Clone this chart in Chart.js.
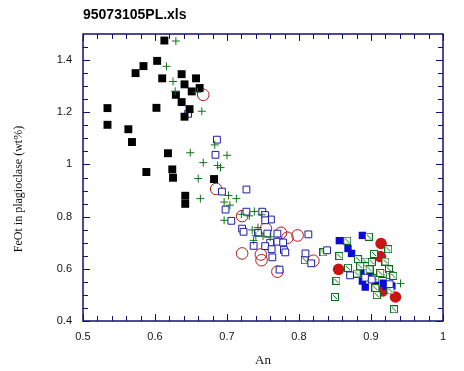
<!DOCTYPE html>
<html>
<head>
<meta charset="utf-8">
<script src="https://cdn.jsdelivr.net/npm/chart.js@4/dist/chart.umd.min.js"></script>
<style>
html,body{margin:0;padding:0;background:#fff;}
#c{display:block;}
</style>
</head>
<body>
<canvas id="c" width="464" height="371"></canvas>
<script>
// ---- Data (An, FeOt wt%) ----
const chartTitle = "95073105PL.xls";
const xTitle = "An";
const yTitle = "FeOt in plagioclase (wt%)";
const xTickValues = [0.5, 0.6, 0.7, 0.8, 0.9, 1.0];
const yTickValues = [0.4, 0.6, 0.8, 1.0, 1.2, 1.4];

const blackSqAn  = [0.613,0.603,0.584,0.573,0.610,0.637,0.657,0.641,0.662,0.651,0.629,0.637,0.648,0.641,0.534,0.602,0.534,0.563,0.568,0.618,0.588,0.624,0.625,0.682,0.642,0.642];
const blackSqFeO = [1.475,1.397,1.377,1.350,1.330,1.346,1.330,1.307,1.293,1.280,1.267,1.239,1.212,1.183,1.216,1.217,1.152,1.135,1.086,1.043,0.971,0.981,0.949,0.944,0.880,0.849];

const plusAn  = [0.629,0.616,0.625,0.628,0.659,0.665,0.683,0.649,0.700,0.667,0.687,0.691,0.660,0.663,0.702,0.713,0.696,0.704,0.696,0.720,0.731,0.738,0.748,0.735,0.743,0.740,0.750,0.737,0.760,0.941];
const plusFeO = [1.473,1.376,1.318,1.280,1.277,1.204,1.075,1.045,1.035,1.007,0.996,0.988,0.946,0.869,0.881,0.869,0.856,0.844,0.786,0.809,0.803,0.820,0.807,0.749,0.758,0.727,0.725,0.709,0.722,0.544];

const openSqAn  = [0.686,0.684,0.646,0.727,0.693,0.698,0.706,0.727,0.749,0.753,0.761,0.753,0.721,0.723,0.743,0.756,0.770,0.813,0.760,0.770,0.778,0.737,0.753,0.762,0.779,0.781,0.763,0.809,0.817,0.839,0.773,0.871,0.892,0.901,0.926];
const openSqFeO = [1.095,1.037,1.194,0.904,0.896,0.827,0.784,0.819,0.819,0.806,0.789,0.786,0.754,0.742,0.738,0.735,0.735,0.732,0.700,0.704,0.701,0.688,0.687,0.675,0.672,0.663,0.644,0.659,0.621,0.671,0.597,0.575,0.566,0.559,0.541];

const openCircAn  = [0.667,0.685,0.721,0.754,0.775,0.784,0.798,0.721,0.747,0.748,0.770,0.820];
const openCircFeO = [1.267,0.906,0.802,0.754,0.738,0.719,0.728,0.659,0.655,0.633,0.589,0.631];

const redDotAn  = [0.914,0.913,0.855,0.934,0.916];
const redDotFeO = [0.697,0.647,0.598,0.492,0.515];

const blueSqAn  = [0.856,0.888,0.868,0.873,0.886,0.888,0.892,0.906,0.917,0.921,0.929,0.899];
const blueSqFeO = [0.708,0.728,0.678,0.659,0.587,0.553,0.530,0.551,0.545,0.534,0.534,0.572];

const diagSqAn  = [0.834,0.867,0.897,0.904,0.924,0.856,0.882,0.892,0.901,0.920,0.868,0.892,0.898,0.917,0.925,0.926,0.931,0.852,0.880,0.906,0.906,0.908,0.927,0.850,0.932,0.808,0.885,0.913];
const diagSqFeO = [0.663,0.708,0.723,0.657,0.675,0.649,0.637,0.628,0.626,0.628,0.604,0.610,0.598,0.582,0.598,0.576,0.573,0.554,0.582,0.563,0.526,0.499,0.517,0.492,0.445,0.633,0.610,0.584];

function pts(xs, ys){ return xs.map((x,i)=>({x:x, y:ys[i]})); }

// custom point: green square with diagonal
const diagImg = document.createElement('canvas');
diagImg.width = 8; diagImg.height = 8;
(function(){
  const g = diagImg.getContext('2d');
  g.fillStyle = '#ffffff'; g.fillRect(0,0,8,8);
  g.strokeStyle = '#0a6e1e'; g.lineWidth = 1;
  g.strokeRect(0.5,0.5,7,7);
  g.beginPath(); g.moveTo(2,2); g.lineTo(6,6); g.stroke();
})();

const NAVY = '#10107a';

const frameAndTicks = {
  id: 'frameAndTicks',
  afterDraw(chart){
    const {ctx, chartArea:a, scales:{x, y}} = chart;
    ctx.save();
    ctx.strokeStyle = NAVY; ctx.lineWidth = 1.5;
    ctx.strokeRect(a.left, a.top, a.right - a.left, a.bottom - a.top);
    ctx.lineWidth = 1;
    ctx.beginPath();
    for (let i = 0; i <= 25; i++) {
      const v = 0.5 + i * 0.02;
      const px = Math.round(x.getPixelForValue(v)) + 0.5;
      const len = (i % 5 === 0) ? 7 : 5;
      ctx.moveTo(px, a.bottom); ctx.lineTo(px, a.bottom - len);
      ctx.moveTo(px, a.top); ctx.lineTo(px, a.top + len);
    }
    for (let i = 0; i <= 21; i++) {
      const v = 0.4 + i * 0.05;
      const py = Math.round(y.getPixelForValue(v)) + 0.5;
      const len = (i % 4 === 0) ? 7 : 5;
      ctx.moveTo(a.left, py); ctx.lineTo(a.left + len, py);
      ctx.moveTo(a.right, py); ctx.lineTo(a.right - len, py);
    }
    ctx.stroke();
    // chart title
    ctx.fillStyle = '#000';
    ctx.font = 'bold 14px "Liberation Sans", Arial, sans-serif';
    ctx.textAlign = 'left'; ctx.textBaseline = 'middle';
    ctx.fillText(chartTitle, a.left, 15);
    // y axis title
    ctx.fillStyle = '#111';
    ctx.font = '12px "Liberation Serif", "Times New Roman", serif';
    ctx.translate(19, 189);
    ctx.rotate(-Math.PI / 2);
    ctx.textAlign = 'center'; ctx.textBaseline = 'middle';
    ctx.fillText(yTitle, 0, 0);
    ctx.restore();
  }
};

const fmt = v => String(Number(v.toFixed(2)));

new Chart(document.getElementById('c'), {
  type: 'scatter',
  data: {
    datasets: [
      { label:'plus', data: pts(plusAn, plusFeO), pointStyle:'cross', pointRadius:4, borderColor:'#11731a', backgroundColor:'#11731a', borderWidth:1 },
      { label:'black squares', data: pts(blackSqAn, blackSqFeO), pointStyle:'rect', pointRadius:5.6, borderColor:'#000', backgroundColor:'#000', borderWidth:0 },
      { label:'open squares', data: pts(openSqAn, openSqFeO), pointStyle:'rect', pointRadius:4.8, borderColor:'#1a1aa8', backgroundColor:'#ffffff', borderWidth:1 },
      { label:'open circles', data: pts(openCircAn, openCircFeO), pointStyle:'circle', pointRadius:5.8, borderColor:'#b01818', backgroundColor:'rgba(0,0,0,0)', borderWidth:1 },
      { label:'diag squares', data: pts(diagSqAn, diagSqFeO), pointStyle: diagImg, pointRadius:4 },
      { label:'blue squares', data: pts(blueSqAn, blueSqFeO), pointStyle:'rect', pointRadius:5.2, borderColor:'#0a0ad8', backgroundColor:'#0a0ad8', borderWidth:0 },
      { label:'red dots', data: pts(redDotAn, redDotFeO), pointStyle:'circle', pointRadius:5.8, borderColor:'#c81414', backgroundColor:'#c81414', borderWidth:0 }
    ]
  },
  options: {
    responsive: false,
    animation: false,
    events: [],
    layout: { padding: { left: 0, right: 21, top: 34, bottom: 0 } },
    plugins: { legend: { display:false }, tooltip: { enabled:false }, title: { display:false } },
    scales: {
      x: {
        type: 'linear', min: 0.5, max: 1.0,
        grid: { display:false, drawTicks:false },
        border: { display:false },
        afterBuildTicks: s => { s.ticks = xTickValues.map(v => ({value:v})); },
        afterFit: s => { s.height = 50; },
        ticks: { padding: 9, color:'#111', font: { family:'"Liberation Sans", Arial, sans-serif', size: 11 }, callback: v => fmt(v), maxRotation:0 },
        title: { display:true, text:xTitle, color:'#111', font:{ family:'"Liberation Serif", "Times New Roman", serif', size:13 }, padding:{ top:0, bottom:3 } }
      },
      y: {
        type: 'linear', min: 0.4, max: 1.5,
        grid: { display:false, drawTicks:false },
        border: { display:false },
        afterBuildTicks: s => { s.ticks = yTickValues.map(v => ({value:v})); },
        afterFit: s => { s.width = 83; },
        ticks: { padding: 11, color:'#111', font: { family:'"Liberation Sans", Arial, sans-serif', size: 11 }, callback: v => fmt(v) },
        title: { display:false }
      }
    }
  },
  plugins: [frameAndTicks]
});
</script>
</body>
</html>
